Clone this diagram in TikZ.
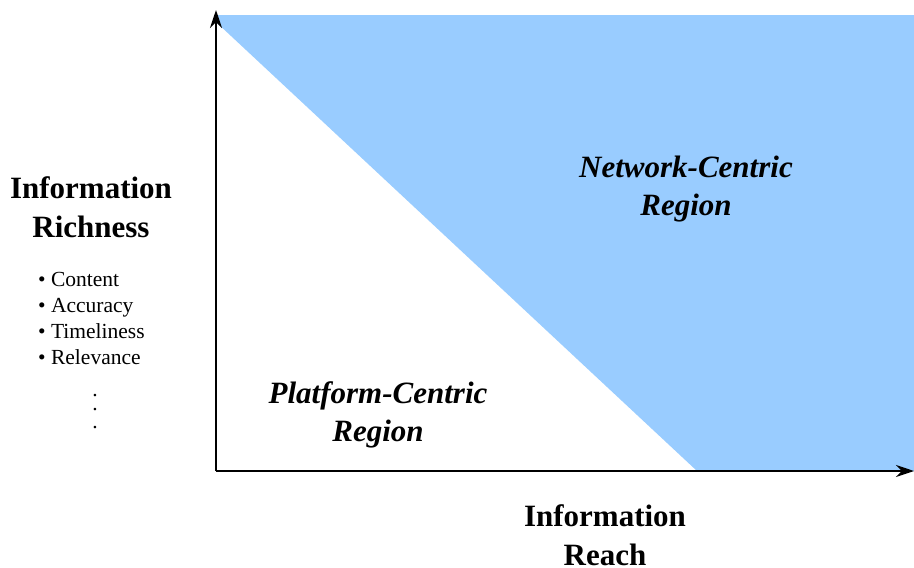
\documentclass[tikz,border=0pt]{standalone}
\usepackage{fontspec}
\setmainfont{Liberation Serif}
\usetikzlibrary{arrows.meta}
\definecolor{regionblue}{RGB}{153,204,255}
\begin{document}
\begin{tikzpicture}[x=1pt,y=-1pt,
	axis/.style={black,line width=2pt,-{Stealth[length=18pt,width=12pt,inset=6pt]}},
	bigtext/.style={inner sep=0pt,align=center,anchor=base,font=\fontsize{31}{39}\selectfont\bfseries},
	regiontext/.style={bigtext,font=\fontsize{31}{38}\selectfont\bfseries\itshape},
	listtext/.style={inner sep=0pt,align=left,anchor=base west,font=\fontsize{21.5}{25.7}\selectfont}]
	\useasboundingbox (0,0) rectangle (914,568);
	% shaded region
	\fill[regionblue] (216,15) -- (914,15) -- (914,471) -- (697,471) -- (216,22) -- cycle;
	% axes
	\coordinate (o) at (216,471);
	\coordinate (ytop) at (216,10);
	\coordinate (xend) at (914,471);
	\draw[axis] (o) -- (ytop);
	\draw[axis] (o) -- (xend);
	% labels (anchored at the baseline of the last line)
	\node[bigtext](richness) at (91,237){Information\\Richness};
	\node[bigtext](reach) at (605,565){Information\\Reach};
	\node[regiontext](network) at (686,215){Network-Centric\\Region};
	\node[regiontext](platform) at (378,441){Platform-Centric\\Region};
	\node[listtext](list) at (38,364){• Content\\• Accuracy\\• Timeliness\\• Relevance};
	\foreach \y/\n in {396/1,410/2,428/3}
		\node[inner sep=0pt,anchor=base,font=\fontsize{21.5}{25.7}\selectfont](dot\n) at (95,\y){.};
\end{tikzpicture}
\end{document}
